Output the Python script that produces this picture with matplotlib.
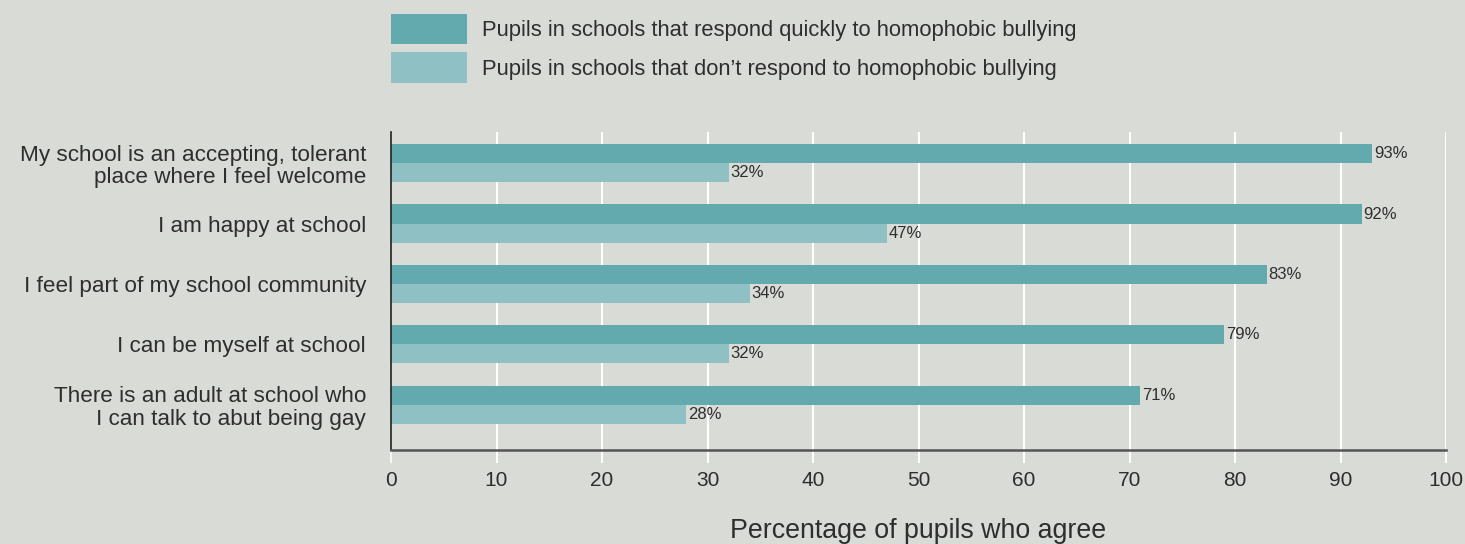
import numpy as np
import matplotlib
matplotlib.use('Agg')
import matplotlib.pyplot as plt
from matplotlib.patches import Patch

# data ------------------------------------------------------------
categories = ['My school is an accepting, tolerant\nplace where I feel welcome',
              'I am happy at school',
              'I feel part of my school community',
              'I can be myself at school',
              'There is an adult at school who\nI can talk to abut being gay']
respond_quickly = [93, 92, 83, 79, 71]
dont_respond = [32, 47, 34, 32, 28]
series_names = ['Pupils in schools that respond quickly to homophobic bullying',
                'Pupils in schools that don\u2019t respond to homophobic bullying']
xticks = [0, 10, 20, 30, 40, 50, 60, 70, 80, 90, 100]

# style -----------------------------------------------------------
bg = '#D9DBD6'
dark = '#63AAAF'
light = '#8FC0C3'
txt = '#2E2E2E'
plt.rcParams['font.family'] = ['Liberation Sans', 'DejaVu Sans']

fig = plt.figure(figsize=(14.65, 5.44), dpi=100, facecolor=bg)
ax = fig.add_axes([391/1465, 1-450/544, 1055/1465, 318/544], facecolor=bg)

y = np.arange(len(categories))
h = 0.315
for xv in xticks[1:]:
    ax.axvline(xv, color='white', lw=1.5, zorder=0)
b1 = ax.barh(y - h/2, respond_quickly, height=h, color=dark, zorder=2)
b2 = ax.barh(y + h/2, dont_respond, height=h, color=light, zorder=2)

for bars, vals in [(b1, respond_quickly), (b2, dont_respond)]:
    for bar, v in zip(bars, vals):
        ax.annotate('%d%%' % v, (bar.get_width(), bar.get_y() + bar.get_height()/2),
                    xytext=(1.5, 0), textcoords='offset points',
                    va='center', ha='left', fontsize=12, color=txt)

ax.set_xlim(0, 100)
ax.set_ylim(4.746, -0.514)
ax.set_yticks(y)
ax.set_yticklabels(categories, fontsize=16.2, color=txt, linespacing=1.12)
ax.tick_params(axis='y', length=0, pad=18)
ax.set_xticks(xticks)
ax.tick_params(axis='x', length=9.4, width=1.5, color='white', pad=6,
               labelsize=15, labelcolor=txt)
ax.get_xticklines()[0].set_color('#222222')
ax.get_xticklines()[0].set_markeredgewidth(1.2)

for s in ['top', 'right']:
    ax.spines[s].set_visible(False)
ax.spines['left'].set_color('#222222')
ax.spines['left'].set_linewidth(1.2)
ax.spines['bottom'].set_color('#555555')
ax.spines['bottom'].set_linewidth(1.8)

ax.set_xlabel('Percentage of pupils who agree', fontsize=19.3, color=txt, labelpad=20)

handles = [Patch(facecolor=dark), Patch(facecolor=light)]
fig.legend(handles, series_names, loc='upper left',
           bbox_to_anchor=(391/1465, 1-14/544), frameon=False,
           fontsize=15.8, handlelength=3.46, handleheight=1.75,
           labelspacing=0.36, handletextpad=0.68, borderpad=0,
           borderaxespad=0, labelcolor=txt)

plt.savefig('out.png', dpi=100, facecolor=bg)
